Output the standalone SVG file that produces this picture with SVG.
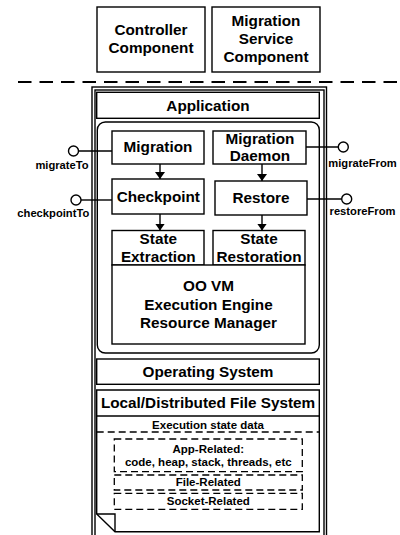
<svg xmlns="http://www.w3.org/2000/svg" width="400" height="535" viewBox="0 0 400 535">
<style>
.b{fill:#fff;stroke:#000;stroke-width:1.4}
.n{fill:none;stroke:#000;stroke-width:1.4}
.t{font-family:"Liberation Sans",Arial,sans-serif;font-weight:bold;font-size:15.3px;fill:#000;text-anchor:middle}
.s{font-size:11.2px}
.m{font-size:11.5px}
.d{fill:none;stroke:#000;stroke-width:1.3;stroke-dasharray:7 4}
.c{fill:none;stroke:#000;stroke-width:1.4}
.o{fill:#fff;stroke:#000;stroke-width:1.4}
</style>
<defs>
<marker id="ah" markerUnits="userSpaceOnUse" markerWidth="7" markerHeight="10" refX="7" refY="5" orient="auto">
<path d="M0,0 L7,5 L0,10 Z" fill="#000"/>
</marker>
</defs>
<rect x="0" y="0" width="400" height="535" fill="#fff"/>

<g id="controller">
<rect class="b" x="97" y="7" width="108" height="65"/>
<text class="t" x="151" y="35">Controller</text>
<text class="t" x="151" y="53">Component</text>
</g>
<g id="migration-service">
<rect class="b" x="212" y="7" width="108" height="65"/>
<text class="t" x="266" y="26">Migration</text>
<text class="t" x="266" y="44">Service</text>
<text class="t" x="266" y="62">Component</text>
</g>
<line x1="18" y1="82" x2="400" y2="82" stroke="#000" stroke-width="2" stroke-dasharray="13.5 8"/>

<g id="node-container">
<rect class="n" x="92" y="87" width="234.5" height="470"/>
<rect class="n" x="95" y="90" width="229" height="470"/>
</g>
<g id="application">
<rect class="b" x="96.7" y="92.3" width="222.6" height="26"/>
<text class="t" x="208" y="110.5">Application</text>
</g>
<g id="vm-container">
<rect class="n" x="97.3" y="122" width="222" height="231" rx="8"/>
</g>
<g id="migration">
<rect class="b" x="112" y="131" width="92" height="33"/>
<text class="t" x="158" y="152">Migration</text>
</g>
<g id="migration-daemon">
<rect class="b" x="213" y="131" width="93" height="33"/>
<text class="t" x="260" y="143.5">Migration</text>
<text class="t" x="260" y="161">Daemon</text>
</g>
<g id="checkpoint">
<rect class="b" x="112" y="179" width="92" height="35"/>
<text class="t" x="158.3" y="201.5">Checkpoint</text>
</g>
<g id="restore">
<rect class="b" x="215" y="181" width="92" height="34"/>
<text class="t" x="261" y="202.5">Restore</text>
</g>
<g id="state-extraction">
<rect class="b" x="112" y="230.5" width="92" height="34.5"/>
<text class="t" x="158.3" y="243.5">State</text>
<text class="t" x="158.3" y="262">Extraction</text>
</g>
<g id="state-restoration">
<rect class="b" x="213" y="230.5" width="92" height="34.5"/>
<text class="t" x="259" y="243.5">State</text>
<text class="t" x="259" y="262">Restoration</text>
</g>
<g id="oo-vm">
<rect class="b" x="112" y="265" width="193" height="79"/>
<text class="t" x="208.5" y="290.5">OO VM</text>
<text class="t" x="208.5" y="309.5">Execution Engine</text>
<text class="t" x="208.5" y="328">Resource Manager</text>
</g>
<g id="operating-system">
<rect class="b" x="96.7" y="359" width="222.6" height="25.3"/>
<text class="t" x="208" y="376.5">Operating System</text>
</g>
<g id="file-system">
<path class="b" d="M96.7,390 H319.3 V531.7 H115 L96.7,514 Z"/>
<path class="n" d="M96.7,514 H115 V531.7"/>
<line class="n" x1="96.7" y1="416" x2="319.3" y2="416"/>
<text class="t" x="208" y="407.7">Local/Distributed File System</text>
<text class="t m" x="208" y="428.5">Execution state data</text>
<line class="d" x1="96.7" y1="432" x2="319.3" y2="432"/>
</g>
<g id="app-related">
<rect class="d" x="114.3" y="439" width="188" height="32.7"/>
<text class="t m" x="208.3" y="452.5">App-Related:</text>
<text class="t m" x="208.3" y="465.5">code, heap, stack, threads, etc</text>
</g>
<g id="file-related">
<rect class="d" x="114.3" y="475" width="188" height="15"/>
<text class="t m" x="208.3" y="486">File-Related</text>
</g>
<g id="socket-related">
<rect class="d" x="114.3" y="493.3" width="188" height="16"/>
<text class="t m" x="208.3" y="505">Socket-Related</text>
</g>

<g id="connectors">
<line class="c" x1="160" y1="164" x2="160" y2="179" marker-end="url(#ah)"/>
<line class="c" x1="262" y1="164" x2="262" y2="181" marker-end="url(#ah)"/>
<line class="c" x1="160" y1="214" x2="160" y2="230.5" marker-end="url(#ah)"/>
<line class="c" x1="262" y1="215" x2="262" y2="230.5" marker-end="url(#ah)"/>
<line class="c" x1="78.5" y1="151" x2="112" y2="151"/>
<line class="c" x1="81" y1="200" x2="112" y2="200"/>
<line class="c" x1="306" y1="147" x2="338.3" y2="147"/>
<line class="c" x1="307" y1="199" x2="341.7" y2="199"/>
<circle class="o" cx="73.5" cy="151" r="5"/>
<circle class="o" cx="76" cy="200" r="5"/>
<circle class="o" cx="343.3" cy="147" r="5"/>
<circle class="o" cx="346.7" cy="199" r="5"/>
<text class="t s" x="62" y="168.5">migrateTo</text>
<text class="t s" x="53.3" y="217">checkpointTo</text>
<text class="t s" x="362.5" y="166.5">migrateFrom</text>
<text class="t s" x="362.5" y="215">restoreFrom</text>
</g>
</svg>
